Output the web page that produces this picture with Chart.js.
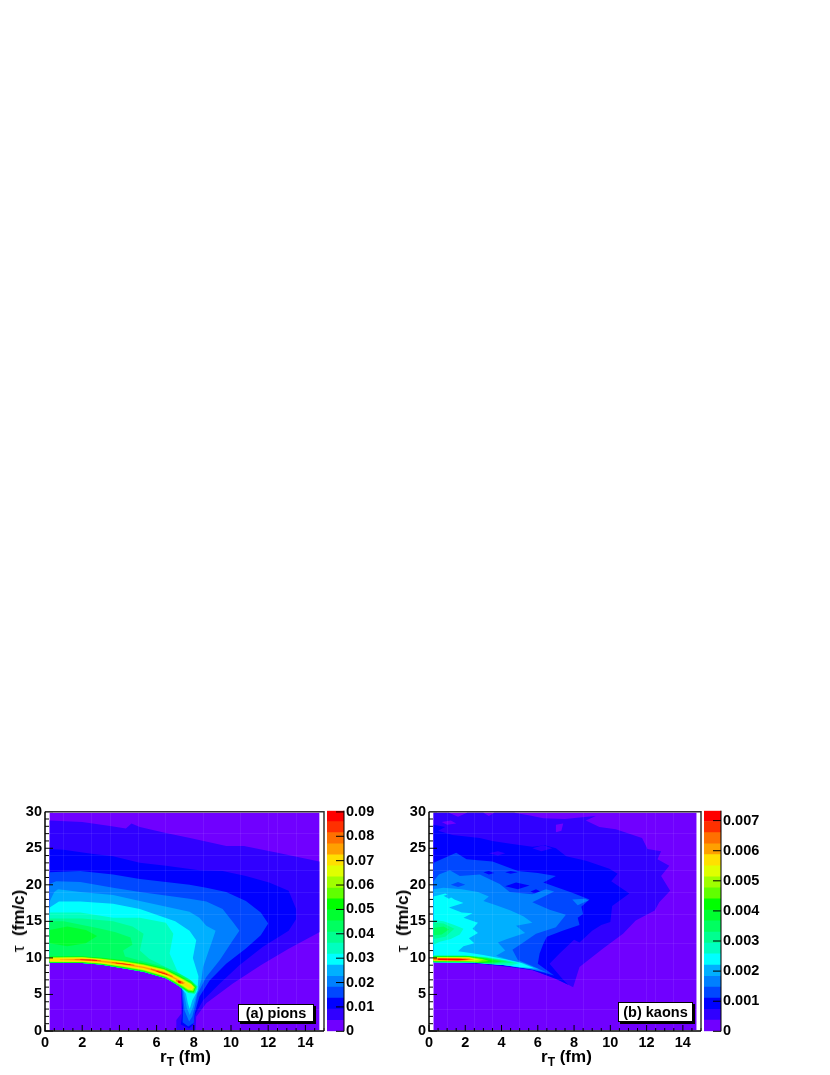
<!DOCTYPE html>
<html lang="en">
<head>
<meta charset="UTF-8" />
<title>Emission time vs transverse radius</title>
<script src="https://cdn.jsdelivr.net/npm/chart.js"></script>
<style>
  html, body { margin: 0; padding: 0; background: #fff; }
  body { position: relative; width: 830px; height: 1075px; overflow: hidden; font-family: "Liberation Sans", sans-serif; font-weight: bold; color: #000; }
  canvas { position: absolute; top: 800px; }
  .xtitle { position: absolute; top: 1048px; font-size: 17px; line-height: 18px; white-space: nowrap; }
  .xtitle sub { font-size: 12px; line-height: 0; vertical-align: -4px; }
  .ytitle { position: absolute; top: 921px; font-size: 17px; line-height: 18px; white-space: nowrap; transform: translate(-50%, -50%) rotate(-90deg); }
  .ytitle span { font-weight: normal; }
  .tag { position: absolute; box-sizing: border-box; background: #fff; border: 1.5px solid #000; box-shadow: 2px 2px 0 #000; display: flex; align-items: center; justify-content: center; font-size: 14.5px; white-space: nowrap; }
</style>
</head>
<body>
  <canvas id="pionMap" width="327" height="275" style="left:0"></canvas>
  <canvas id="pionBar" width="57" height="242" style="left:327px"></canvas>
  <canvas id="kaonMap" width="320" height="275" style="left:384px"></canvas>
  <canvas id="kaonBar" width="75" height="242" style="left:704px"></canvas>

  <div class="ytitle" style="left:19px"><span>τ</span>&nbsp;&nbsp;(fm/c)</div>
  <div class="xtitle" style="left:160px">r<sub>T</sub> (fm)</div>
  <div class="tag" style="left:238px;top:1004px;width:76px;height:18px">(a) pions</div>

  <div class="ytitle" style="left:403px"><span>τ</span>&nbsp;&nbsp;(fm/c)</div>
  <div class="xtitle" style="left:541px">r<sub>T</sub> (fm)</div>
  <div class="tag" style="left:618px;top:1002px;width:75px;height:20px">(b) kaons</div>

<script>
// colour bands, bottom of the palette first
const bandColors = ['#7000ff','#3000ff','#0000ff','#0048ff','#0080ff','#00b0ff','#00ffff','#00ffc0','#00ff90','#00ff60','#00ff30','#00ff00','#60ff00','#a0ff00','#e0ff00','#ffe000','#ffa000','#ff7000','#ff3000','#ff0000'];

const pionLevels = [0,0.0045,0.0091,0.0136,0.0181,0.0226,0.0272,0.0317,0.0362,0.0407,0.0453,0.0498,0.0543,0.0588,0.0634,0.0679,0.0724,0.0769,0.0815,0.086,0.0905];
const kaonLevels = [0,0.00037,0.00073,0.0011,0.00147,0.00183,0.0022,0.00257,0.00293,0.0033,0.00367,0.00403,0.0044,0.00477,0.00513,0.0055,0.00587,0.00623,0.0066,0.00697,0.00733];
const pionBarTicks = [0,0.01,0.02,0.03,0.04,0.05,0.06,0.07,0.08,0.09];
const kaonBarTicks = [0,0.001,0.002,0.003,0.004,0.005,0.006,0.007];

// faint lines that show through the map
const faintR = [1,2.5,3.5,5,6.5,8.5,10.5,12,12.5,13.5];
const faintTau = [3,7,12,16,19,22,24,27];

// contour outlines, [r_T, tau], panel (a)
const pionLower = [[7.33,5.9],[7,6.5],[6.5,7.2],[5.3,8.1],[4.2,8.6],[3,9.1],[2,9.3],[0.25,9.35]];
const pionBand0 = [[0.25,0.15],[14.75,0.15],[14.75,29.85],[0.25,29.85]];
const pionBand1 = [[0.25,28.8],[2,28.6],[3.5,28.05],[4.35,27.7],[4.65,28.4],[5.1,27.9],[6.5,27.1],[7.8,26.4],[9.75,25.3],[10.7,25.3],[12.5,24.4],[14.75,23.2],[14.75,13.5],[13.1,11.25],[11.6,9],[10.1,6.5],[8.67,3.8],[8.13,1.95],[8.1,0.15],[7.06,0.15],[7.06,1.5],[7.33,2.4],...pionLower];
const pionBand2 = [[0.25,24.9],[1,24.8],[2.6,24.2],[3.66,23.9],[5.1,23],[6.5,22.6],[8.3,22],[9.55,21.9],[10.8,21.2],[12.05,20.3],[13.1,19.2],[13.5,16.7],[13.5,15.3],[13.1,13.7],[11.7,11.5],[10.45,9],[9.4,6.5],[8.5,4.2],[8.1,2.4],[7.95,0.8],[7.75,0.35],[7.3,0.9],[7.38,2.4],...pionLower];
const pionBand3 = [[0.25,21.7],[1.9,21.9],[3.66,21.4],[5.1,20.8],[7.77,20],[8.67,19.6],[9.74,19],[10.8,17.8],[11.6,16.2],[12,14.7],[11.6,13.1],[10.8,11.3],[9.74,9.2],[8.85,6.9],[8.3,4.7],[8.05,2.4],[8,1.1],[7.7,0.6],[7.4,1.2],[7.42,3],...pionLower];
const pionBand4 = [[0.25,20.1],[0.6,20.5],[1.9,20.4],[3.66,19.6],[5.1,19],[7.77,18.1],[8.67,17.7],[9.55,16.7],[10.1,14.9],[10.45,13.7],[10.1,12.4],[9.4,9.7],[8.67,7.4],[8.2,5.1],[8.05,3.3],[7.92,2],[7.75,1.3],[7.5,2.8],[7.4,5.5],...pionLower];
const pionBand5 = [[0.25,17.7],[0.5,19],[0.7,19.4],[1.9,19],[3.66,18.6],[5.1,17.8],[7.77,16.3],[8.3,15.5],[8.67,14.4],[9.17,13.7],[9,12.4],[8.75,10.6],[8.5,8.75],[8.4,6.9],[8.15,5],[7.95,3.2],[7.78,2.2],[7.62,3.2],[7.46,5.4],...pionLower];
const pionBand6 = [[0.25,16.9],[0.75,17.7],[1.9,17.7],[3.66,17.4],[5.1,16.7],[7,15],[7.77,13.7],[8.13,12.4],[7.95,10],[8.25,7.5],[8.2,5.5],[7.92,4.2],[7.78,3],[7.68,3.8],[7.58,5.1],...pionLower];
const pionBand7 = [[0.25,16.2],[1.9,16.2],[3.66,15.5],[5.1,15.5],[6.5,14.8],[6.9,13.3],[6.7,10.6],[7.15,8],[7.7,7.2],[8.2,6.1],[8.1,5.2],[7.8,5.2],[7.55,5.5],...pionLower];
const pionBand8 = [[0.25,15.4],[2,15.4],[3.66,15],[4.7,14.3],[5.3,13.3],[5.1,11],[5.6,9.9],[6.3,9],[7.1,8],[7.8,7],[8.2,6.1],[8.05,5.1],[7.7,5.2],...pionLower];
const pionBand9 = [[0.25,15],[1,15],[2,14.5],[3,14],[3.8,13.5],[4.6,12.8],[4.7,11.8],[4.2,11],[4.3,10.2],[5.3,9.5],[6.4,8.8],[7.2,7.85],[7.9,6.8],[8.15,6.1],[8,5.2],[7.7,5.3],...pionLower];
const pionPatch10 = [[0.25,13.8],[1.2,14.3],[2.2,13.8],[2.8,13],[2.2,12],[1.2,11.6],[0.25,12]];
const pionBand10 = [[0.25,10.2],[2,10.23],[3,10.05],[4.2,9.7],[5.3,9.3],[6.4,8.62],[7.2,7.65],[7.88,6.7],[8.12,6.05],[8,5.3],[7.7,5.4],...pionLower];
const pionBand11 = [[0.25,10.15],[2,10.18],[3,9.98],[4.2,9.62],[5.3,9.2],[6.4,8.55],[7.2,7.55],[7.85,6.65],[8.1,6],[8,5.35],[7.7,5.45],[7.4,5.95],[7,6.6],[6.5,7.3],[5.3,8.2],[4.2,8.7],[3,9.15],[2,9.35],[0.25,9.4]];
const pionBand12 = [[0.25,10.1],[2,10.13],[3,9.93],[4.2,9.57],[5.3,9.13],[6.4,8.48],[7.2,7.47],[7.85,6.55],[8.07,6],[7.97,5.42],[7.7,5.52],[7.42,6],[7,6.65],[6.5,7.35],[5.3,8.25],[4.2,8.75],[3,9.2],[2,9.39],[0.25,9.43]];
const pionBand13 = [[0.25,10.05],[2,10.08],[3,9.88],[4.2,9.52],[5.3,9.06],[6.4,8.42],[7.2,7.4],[7.85,6.48],[8.04,6],[7.95,5.5],[7.7,5.6],[7.44,6.05],[7,6.72],[6.5,7.42],[5.3,8.32],[4.2,8.8],[3,9.24],[2,9.43],[0.25,9.46]];
const pionBand14 = [[0.25,10],[2,10.04],[3,9.83],[4.2,9.47],[5.3,9],[6.4,8.35],[7.2,7.3],[7.85,6.4],[8,6],[7.9,5.6],[7.7,5.7],[7.46,6.12],[7,6.8],[6.5,7.5],[5.3,8.38],[4.2,8.85],[3,9.28],[2,9.47],[0.25,9.5]];
const pionBand15 = [[0.25,9.96],[2,10],[3,9.78],[4.2,9.42],[5.3,8.94],[6.4,8.28],[7.2,7.2],[7.8,6.3],[7.95,6],[7.85,5.75],[7.5,6.2],[7,6.88],[6.5,7.58],[5.3,8.45],[4.2,8.9],[3,9.32],[2,9.5],[0.25,9.54]];
const pionBand16 = [[0.8,9.78],[2,9.87],[3,9.65],[4.2,9.28],[5.3,8.78],[6.4,8.12],[7.2,7.02],[7.55,6.55],[7.42,6.45],[7,7.08],[6.5,7.73],[5.3,8.63],[4.2,9.06],[3,9.45],[2,9.65],[0.8,9.7]];
const pionOrangeA = [[1.6,9.8],[2.4,9.84],[3,9.68],[3,9.54],[2.4,9.66],[1.6,9.7]];
const pionOrangeB = [[3.6,9.45],[4.2,9.26],[4.8,9.05],[4.8,8.94],[4.2,9.12],[3.6,9.32]];
const pionOrangeC = [[5.7,8.55],[6.4,8.04],[6.9,7.5],[6.82,7.38],[6.3,7.88],[5.7,8.38]];
const pionOrangeD = [[7.05,7],[7.38,6.78],[7.45,6.45],[7.25,6.45],[7.05,6.8]];
const pionRedA = [[1.9,9.78],[2.8,9.72],[2.8,9.62],[1.9,9.7]];
const pionRedB = [[3.8,9.34],[4.6,9.1],[4.6,9.02],[3.8,9.26]];
const pionRedC = [[6,8.2],[6.6,7.78],[6.55,7.7],[6,8.1]];
const pionRedD = [[7.15,6.9],[7.32,6.75],[7.28,6.52],[7.15,6.62]];

// contour outlines, [r_T, tau], panel (b)
const kaonBand0 = [[0.25,0.15],[14.75,0.15],[14.75,29.85],[0.25,29.85]];
const kaonBand1 = [[0.25,29.85],[1.1,29.85],[1.6,29.3],[2.1,29.85],[3,29.85],[3.3,29.4],[3.6,29.85],[4.7,29.85],[5.5,29.5],[6.3,29.1],[7.5,29],[8.3,29.2],[9.2,29.4],[8.65,28.8],[9.4,27.9],[10.3,27.6],[11.75,26.4],[12.05,24.9],[12.8,24.6],[12.6,23.5],[13.25,22.6],[12.8,21.2],[13.3,19.2],[12.7,17.6],[12.45,16.5],[11.4,15.1],[10.7,13.3],[9.6,11.3],[8.3,8.75],[7.95,6],[7,7.2],[5.7,8.3],[4.45,8.75],[2.8,9.2],[0.25,9.4]];
const kaonGapA = [[0.7,28.6],[1.2,28.8],[1.5,28.4],[1,28.2]];
const kaonGapB = [[7,28.2],[7.4,28.4],[7.3,27.4],[7,27.2]];
const kaonBand2 = [[0.25,28.2],[0.9,27.9],[0.5,27.4],[1.3,26.8],[2.8,26.4],[3.5,26],[4.5,25.6],[5.7,25.2],[6.4,25.4],[7,25],[7.57,23.9],[8.66,23.3],[9.95,22.2],[10.4,21.5],[10.05,20.5],[11.05,18.8],[10.1,17.1],[10,14.9],[9.5,14.5],[9,13.7],[8.3,12.1],[8,12.5],[7.2,10.6],[6.65,9.2],[7.4,7],[7.7,6.3],[7,7.1],[5.7,8.35],[4.45,8.8],[2.8,9.25],[0.25,9.42]];
const kaonGapC = [[3.3,24.3],[3.8,24.6],[4.2,24.3],[3.8,24]];
const kaonGapD = [[5.7,25],[6.3,25.4],[6.8,25],[6.2,24.6]];
const kaonBand3 = [[0.25,23],[1.5,24.4],[2.07,23.5],[3.5,23.2],[4.9,21.9],[6,21.6],[7,21.2],[6.3,20.3],[7.9,18.9],[8.85,18],[8.4,17],[8.5,16],[8.2,15.5],[8.3,14.5],[7.4,13.75],[6.5,12.9],[6.3,11.9],[6.1,10.6],[6,9.2],[6.9,7.6],[5.7,8.4],[4.6,8.95],[2.8,9.3],[0.25,9.44]];
const kaonGapE = [[4.2,19.8],[4.8,20.3],[5.55,19.9],[4.9,19.4]];
const kaonGapF = [[5.6,19.1],[5.9,19.4],[6.2,19],[5.9,18.7]];
const kaonGapG = [[3,21.7],[3.3,21.9],[3.6,21.6],[3.3,21.4]];
const kaonGapH = [[4.2,21.7],[4.5,21.9],[4.9,21.7],[4.5,21.5]];
const kaonBand4 = [[0.55,21.4],[1.15,22],[1.7,21.2],[2.8,21.4],[3.9,20.1],[4.45,19],[5.7,18.7],[6.45,19.4],[6.9,19.1],[5.7,17.6],[6.65,16.6],[7.55,15.9],[7,14.2],[5.9,13.3],[5.2,12.1],[4.6,11.1],[4.9,9.7],[5.6,9],[6.5,8],[5.6,8.45],[4.45,8.95],[2.8,9.3],[0.25,9.45],[0.25,20.5]];
const kaonPatch4 = [[7.9,18],[8.6,18.1],[8.8,17.9],[8.2,17.2]];
const kaonGapI = [[1.2,20],[1.6,20.4],[2,20],[1.6,19.7]];
const kaonBand5 = [[0.25,19.4],[0.8,19.6],[1.8,19.4],[2.7,19],[3.3,18.4],[3,17.8],[3.7,17.2],[4.5,16.5],[5.2,15.7],[5.7,14.8],[4.8,14.4],[5.3,13.4],[4.3,12.6],[3.8,12.1],[4.2,11],[3.7,10.3],[4.3,9.8],[5.2,9.3],[6.1,8.4],[5,8.65],[4.2,9],[2.8,9.35],[0.25,9.47]];
const kaonBand6 = [[0.25,18.4],[0.9,18.8],[1.4,18],[1.9,17.5],[1.1,16.9],[1.8,16.2],[2.4,16.1],[1.9,15.5],[2.7,14.8],[2.4,14],[2.7,13.4],[2.2,12.7],[2.5,12],[1.9,11.6],[1.6,10.9],[2.2,10.7],[3,10.4],[4.2,9.8],[5.1,9.3],[5.8,8.6],[4.8,8.8],[4,9.05],[2.8,9.34],[0.25,9.42]];
const kaonGapJ = [[0.8,18.5],[1.1,18.7],[1.3,18.4],[1.1,18.1]];
const kaonBand7 = [[0.25,15.2],[0.8,15],[1.4,14.5],[1.9,14],[1.7,13.2],[1.2,12.6],[0.6,12.2],[0.25,11.8]];
const kaonBand8 = [[0.25,14.8],[0.8,14.7],[1.4,14],[0.9,12.9],[0.25,12.6]];
const kaonBand9 = [[0.25,14.1],[0.8,14.3],[1.1,13.9],[0.7,13.2],[0.25,13.1]];
const kaonRidge7 = [[0.25,10.35],[2,10.35],[3.2,10.1],[4.2,9.72],[5,9.3],[4.5,8.95],[3.6,9.1],[2.6,9.3],[0.25,9.38]];
const kaonRidge8 = [[0.25,10.3],[2,10.3],[3.2,10.03],[4.1,9.68],[4.7,9.35],[3.6,9.17],[2.6,9.35],[0.25,9.42]];
const kaonRidge9 = [[0.25,10.26],[2.2,10.26],[3.2,9.97],[4.3,9.5],[3.5,9.24],[2.4,9.4],[0.25,9.46]];
const kaonRidge10 = [[0.25,10.22],[2.2,10.22],[3.2,9.92],[4,9.5],[3.3,9.3],[2.4,9.44],[0.25,9.49]];
const kaonRidge11 = [[0.25,10.18],[2.2,10.18],[3,9.88],[3.6,9.55],[3,9.35],[2.2,9.47],[0.25,9.52]];
const kaonRidge12 = [[0.25,10.14],[2.2,10.14],[3,9.84],[3.3,9.58],[2.7,9.42],[2.2,9.5],[0.25,9.55]];
const kaonRidge13 = [[0.25,10.1],[2.2,10.08],[3,9.78],[2.7,9.47],[2,9.53],[0.25,9.58]];
const kaonRidge14 = [[0.25,10.06],[2.2,10.04],[2.8,9.74],[2,9.56],[0.25,9.61]];
const kaonRidge15 = [[0.25,10.02],[2.2,10],[2.7,9.72],[1.9,9.59],[0.25,9.64]];
const kaonRidge16 = [[0.25,9.98],[2.2,9.94],[2.5,9.74],[1.8,9.62],[0.25,9.67]];
const kaonRidge17 = [[0.25,9.94],[2,9.9],[2.3,9.76],[1.7,9.65],[0.25,9.7]];
const kaonRidge19 = [[0.5,9.92],[1.7,9.9],[2.2,9.78],[1.6,9.67],[0.5,9.7]];

// painter's order: [band, outline]
const pionLayers = [[0,pionBand0],[1,pionBand1],[2,pionBand2],[3,pionBand3],[4,pionBand4],[5,pionBand5],[6,pionBand6],[7,pionBand7],[8,pionBand8],[9,pionBand9],[10,pionPatch10],[10,pionBand10],[11,pionBand11],[12,pionBand12],[13,pionBand13],[14,pionBand14],[15,pionBand15],[16,pionBand16],[17,pionOrangeA],[17,pionOrangeB],[17,pionOrangeC],[17,pionOrangeD],[19,pionRedA],[19,pionRedB],[19,pionRedC],[19,pionRedD]];
const kaonLayers = [[0,kaonBand0],[1,kaonBand1],[0,kaonGapA],[0,kaonGapB],[2,kaonBand2],[1,kaonGapC],[1,kaonGapD],[3,kaonBand3],[2,kaonGapE],[2,kaonGapF],[2,kaonGapG],[2,kaonGapH],[4,kaonBand4],[4,kaonPatch4],[3,kaonGapI],[5,kaonBand5],[6,kaonBand6],[5,kaonGapJ],[7,kaonBand7],[8,kaonBand8],[9,kaonBand9],[7,kaonRidge7],[8,kaonRidge8],[9,kaonRidge9],[10,kaonRidge10],[11,kaonRidge11],[12,kaonRidge12],[13,kaonRidge13],[14,kaonRidge14],[15,kaonRidge15],[16,kaonRidge16],[17,kaonRidge17],[19,kaonRidge19]];

const axisFont = { family: 'Liberation Sans', weight: 'bold', size: 14.5 };

// fills each outline from the points the scales have placed
const contourFill = {
  id: 'contourFill',
  beforeDatasetsDraw(chart) {
    const { ctx, chartArea: a } = chart;
    ctx.save();
    ctx.beginPath();
    ctx.rect(a.left, a.top, a.right - a.left, a.bottom - a.top);
    ctx.clip();
    chart.data.datasets.forEach((ds, i) => {
      const pts = chart.getDatasetMeta(i).data;
      ctx.beginPath();
      pts.forEach((p, j) => j ? ctx.lineTo(p.x, p.y) : ctx.moveTo(p.x, p.y));
      ctx.closePath();
      ctx.fillStyle = ds.backgroundColor;
      ctx.fill();
    });
    ctx.restore();
  }
};

// root style frame, ticks point into the plot
const mapFrame = {
  id: 'mapFrame',
  afterDraw(chart) {
    const { ctx, chartArea: a, scales: { x, y } } = chart;
    ctx.save();
    ctx.strokeStyle = '#000';
    ctx.lineWidth = 1;
    x.ticks.forEach(t => {
      const px = x.getPixelForValue(t.value);
      const len = t.value % 2 === 0 ? 6 : 3;
      ctx.beginPath(); ctx.moveTo(px, a.bottom); ctx.lineTo(px, a.bottom - len); ctx.stroke();
    });
    y.ticks.forEach(t => {
      const py = y.getPixelForValue(t.value);
      const len = t.value % 5 === 0 ? 8 : 4;
      ctx.beginPath(); ctx.moveTo(a.left, py); ctx.lineTo(a.left + len, py); ctx.stroke();
    });
    ctx.lineWidth = 1.5;
    ctx.strokeStyle = '#333';
    ctx.beginPath(); ctx.moveTo(a.left, a.top); ctx.lineTo(a.right, a.top); ctx.lineTo(a.right, a.bottom); ctx.stroke();
    ctx.strokeStyle = '#000';
    ctx.beginPath(); ctx.moveTo(a.left, a.top); ctx.lineTo(a.left, a.bottom); ctx.lineTo(a.right, a.bottom); ctx.stroke();
    ctx.restore();
  }
};

const barFrame = {
  id: 'barFrame',
  afterDraw(chart) {
    const { ctx, chartArea: a, scales: { y } } = chart;
    ctx.save();
    ctx.strokeStyle = '#000';
    ctx.lineWidth = 1;
    ctx.beginPath(); ctx.moveTo(a.right, a.top); ctx.lineTo(a.right, a.bottom); ctx.stroke();
    y.ticks.forEach(t => {
      const py = y.getPixelForValue(t.value);
      ctx.beginPath(); ctx.moveTo(a.right, py); ctx.lineTo(a.right - 8, py); ctx.stroke();
    });
    ctx.restore();
  }
};

function mapChart(id, layers) {
  new Chart(document.getElementById(id), {
    type: 'scatter',
    data: {
      datasets: layers.map(l => ({ data: l[1], backgroundColor: bandColors[l[0]], pointRadius: 0, showLine: false }))
    },
    plugins: [contourFill, mapFrame],
    options: {
      responsive: false,
      animation: false,
      layout: { padding: { top: 10.5, right: 2 } },
      plugins: { legend: { display: false }, tooltip: { enabled: false } },
      scales: {
        x: {
          type: 'linear', min: 0, max: 15,
          afterFit: s => { s.height = 44; },
          border: { display: false },
          grid: { z: 1, drawTicks: false, color: c => faintR.includes(c.tick.value) ? 'rgba(255,255,255,0.07)' : 'rgba(255,255,255,0)' },
          ticks: { stepSize: 0.5, autoSkip: false, maxRotation: 0, padding: 3, color: '#000', font: axisFont, callback: v => v % 2 === 0 ? String(v) : '' }
        },
        y: {
          type: 'linear', min: 0, max: 30,
          afterFit: s => { s.width = 45; },
          border: { display: false },
          grid: { z: 1, drawTicks: false, color: c => faintTau.includes(c.tick.value) ? 'rgba(255,255,255,0.07)' : 'rgba(255,255,255,0)' },
          ticks: { stepSize: 1, autoSkip: false, padding: 3, color: '#000', font: axisFont, callback: v => v % 5 === 0 ? String(v) : '' }
        }
      }
    }
  });
}

function barChart(id, levels, tickValues, axisWidth) {
  new Chart(document.getElementById(id), {
    type: 'bar',
    data: {
      labels: ['z'],
      datasets: bandColors.map((c, i) => ({ data: [[levels[i], levels[i + 1]]], backgroundColor: c, borderWidth: 0, barPercentage: 1, categoryPercentage: 1, grouped: false }))
    },
    plugins: [barFrame],
    options: {
      responsive: false,
      animation: false,
      layout: { padding: { top: 10, bottom: 10 } },
      plugins: { legend: { display: false }, tooltip: { enabled: false } },
      scales: {
        x: { display: false },
        y: {
          position: 'right',
          min: levels[0], max: levels[levels.length - 1],
          afterFit: s => { s.width = axisWidth; },
          afterBuildTicks: s => { s.ticks = tickValues.map(v => ({ value: v })); },
          border: { display: false },
          grid: { display: false, drawTicks: false },
          ticks: { padding: 2, color: '#000', font: axisFont, callback: v => String(v) }
        }
      }
    }
  });
}

mapChart('pionMap', pionLayers);
barChart('pionBar', pionLevels, pionBarTicks, 40);
mapChart('kaonMap', kaonLayers);
barChart('kaonBar', kaonLevels, kaonBarTicks, 58);
</script>
</body>
</html>
